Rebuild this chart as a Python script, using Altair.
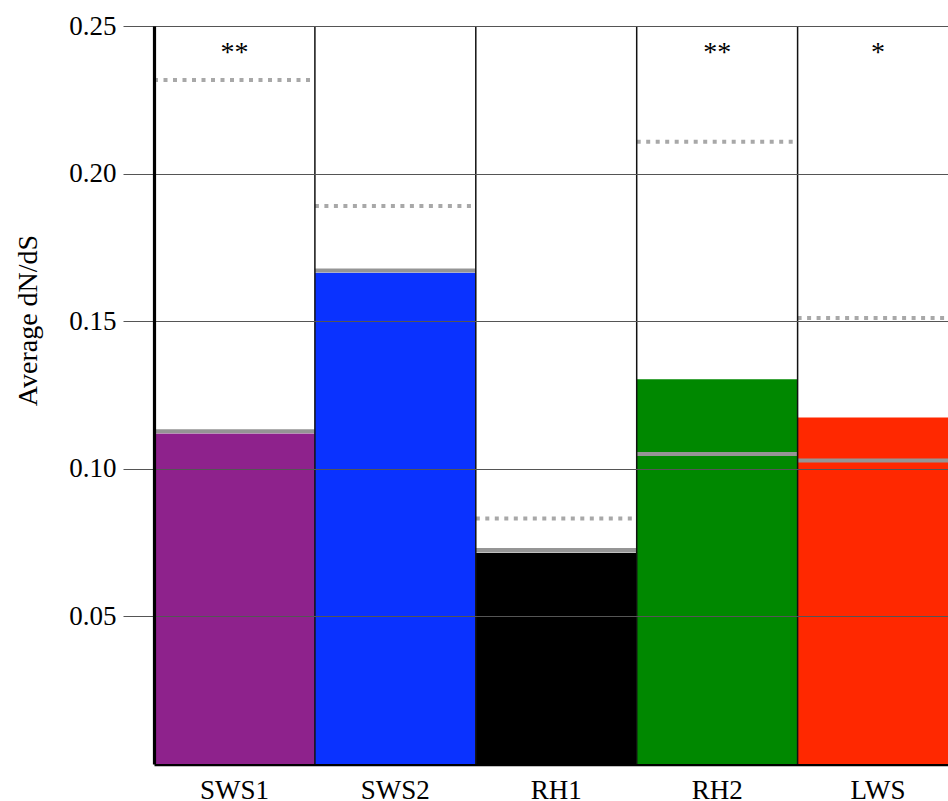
import altair as alt
import pandas as pd

# Average dN/dS per opsin gene class
genes = ["SWS1", "SWS2", "RH1", "RH2", "LWS"]
avg_dnds = [0.1120, 0.1664, 0.0716, 0.1303, 0.1174]
reference_dnds = [0.1127, 0.1672, 0.0725, 0.1050, 0.1028]
upper_dnds = [0.2317, 0.1890, 0.0832, 0.2108, 0.1511]
significance = ["**", "", "", "**", "*"]
bar_colors = ["#8E228C", "#0A32FF", "#000000", "#008800", "#FF2800"]

df = pd.DataFrame({
    "gene": genes,
    "avg": avg_dnds,
    "ref": reference_dnds,
    "upper": upper_dnds,
    "sig": significance,
})

FONT = "Liberation Serif"

xscale = alt.Scale(domain=genes, range=[0, 804.5], paddingInner=0, paddingOuter=0)
yscale = alt.Scale(domain=[0, 0.25], nice=False, zero=True)

base = alt.Chart(df)

bars = base.mark_bar(strokeWidth=0).encode(
    x=alt.X("gene:N", scale=xscale, sort=genes,
            axis=alt.Axis(title=None, ticks=False, tickSize=0, labelPadding=34,
                          labelBaseline="alphabetic", labelAngle=0,
                          labelFontSize=27, labelFont=FONT, labelColor="black",
                          domainColor="black", domainWidth=3.5, grid=False)),
    y=alt.Y("avg:Q", scale=yscale,
            axis=alt.Axis(title="Average dN/dS", values=[0.05, 0.1, 0.15, 0.2, 0.25],
                          format=".2f", grid=True, gridColor="#555", gridWidth=1,
                          tickSize=31, tickColor="#555", tickWidth=1,
                          labelPadding=7, labelFontSize=27, labelFont=FONT,
                          labelColor="black", labelBaseline="middle",
                          domainColor="black", domainWidth=3.2, zindex=1,
                          titleFont=FONT, titleFontSize=28, titleFontWeight="normal",
                          titleColor="black", titleAngle=270, titleBaseline="alphabetic",
                          titleAlign="center", titleX=-118, titleY=294)),
    color=alt.Color("gene:N", scale=alt.Scale(domain=genes, range=bar_colors), legend=None),
)

ref_lines = base.mark_rule(color="#959595", strokeWidth=4).encode(
    x=alt.X("gene:N", scale=xscale, bandPosition=0),
    x2=alt.X2("gene:N", bandPosition=1),
    y="ref:Q",
)

upper_lines = base.mark_rule(color="#A8A8A8", strokeWidth=4, strokeDash=[4, 5.5]).encode(
    x=alt.X("gene:N", scale=xscale, bandPosition=0),
    x2=alt.X2("gene:N", bandPosition=1),
    y="upper:Q",
)

separators = base.mark_rule(color="#111", strokeWidth=1.5).encode(
    x=alt.X("gene:N", scale=xscale, bandPosition=0),
)

stars = base.mark_text(font=FONT, fontSize=28, baseline="alphabetic", color="black").encode(
    x=alt.X("gene:N", scale=xscale),
    y=alt.datum(0.238),
    text="sig:N",
)

chart = alt.layer(bars, ref_lines, upper_lines, separators, stars).properties(
    width=794,
    height=738,
    padding={"left": 154, "top": 26, "right": 0, "bottom": 37},
    autosize=alt.AutoSizeParams(type="none"),
).configure_view(stroke=None).configure(background="white")

chart.save("out.html", embed_options={"renderer": "svg", "actions": False})
